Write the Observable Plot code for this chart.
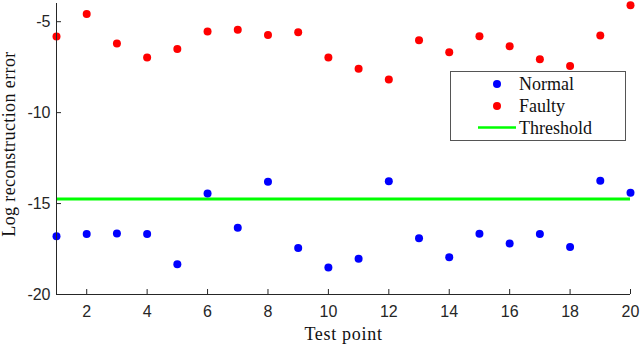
<!DOCTYPE html>
<html>
<head>
<meta charset="utf-8">
<script src="https://cdn.jsdelivr.net/npm/d3@7"></script>
<script src="https://cdn.jsdelivr.net/npm/@observablehq/plot@0.6"></script>
<style>
  html, body { margin: 0; padding: 0; background: #fff; }
  #wrap { position: relative; width: 640px; height: 345px; }
</style>
</head>
<body>
<div id="wrap"></div>
<script>
const testPoints = d3.range(1, 21);
const normal = [-16.8, -16.67, -16.65, -16.67, -18.34, -14.45, -16.33, -13.8, -17.44, -18.52,
                -18.04, -13.77, -16.91, -17.95, -16.66, -17.2, -16.67, -17.39, -13.75, -14.41];
const faulty = [-5.82, -4.58, -6.2, -6.97, -6.5, -5.54, -5.44, -5.73, -5.58, -6.97,
                -7.59, -8.18, -6.02, -6.68, -5.8, -6.35, -7.06, -7.43, -5.76, -4.1];
const threshold = -14.75;
const seriesNames = ["Normal", "Faulty", "Threshold"];
const seriesColors = ["#0000ff", "#ff0000", "#00ff00"];
const xTicks = [2, 4, 6, 8, 10, 12, 14, 16, 18, 20];
const yTicks = [-20, -15, -10, -5];

const normalData = testPoints.map((x, i) => ({x, y: normal[i]}));
const faultyData = testPoints.map((x, i) => ({x, y: faulty[i]}));

const axisColor = "#262626";
const sans = "'Liberation Sans', Arial, sans-serif";
const serif = "'Liberation Serif', 'Times New Roman', serif";

const chart = Plot.plot({
  width: 640,
  height: 345,
  marginLeft: 56,
  marginRight: 10,
  marginTop: 3,
  marginBottom: 51,
  style: {fontFamily: sans, fontSize: "16px", color: axisColor, background: "#fff"},
  x: {domain: [1, 20]},
  y: {domain: [-20, -4]},
  marks: [
    Plot.ruleY([threshold], {x1: 1, x2: 20, stroke: seriesColors[2], strokeWidth: 3}),
    Plot.dot(normalData, {x: "x", y: "y", r: 4, fill: seriesColors[0]}),
    Plot.dot(faultyData, {x: "x", y: "y", r: 4, fill: seriesColors[1]}),
    Plot.axisX({ticks: xTicks, tickFormat: d => String(d), tickSize: -5, tickPadding: 16, stroke: axisColor, fill: axisColor, fontSize: 16, label: null}),
    Plot.axisY({ticks: yTicks, tickFormat: d => String(d), tickSize: -5, tickPadding: 11, stroke: axisColor, fill: axisColor, fontSize: 16, label: null}),
    Plot.ruleX([1], {stroke: axisColor}),
    Plot.ruleY([-20], {stroke: axisColor}),
    Plot.text(["Test point"], {frameAnchor: "bottom", dy: 45, fontFamily: serif, fontSize: 18, fill: "#111", lineAnchor: "bottom"}),
    Plot.text(["Log reconstruction error"], {frameAnchor: "left", textAnchor: "middle", dx: -47, dy: -5, rotate: -90, fontFamily: serif, fontSize: 18, fill: "#111"})
  ]
});
chart.querySelectorAll("text").forEach(t => {
  if (t.textContent === "Log reconstruction error") t.setAttribute("letter-spacing", "0.4px");
  if (t.textContent === "Test point") t.setAttribute("letter-spacing", "0.7px");
});
document.getElementById("wrap").appendChild(chart);

// Legend
const lw = 176, lh = 70;
const leg = d3.create("svg").attr("width", lw).attr("height", lh)
  .style("position", "absolute").style("left", "450px").style("top", "71px");
leg.append("rect").attr("x", 0.5).attr("y", 0.5).attr("width", lw - 1).attr("height", lh - 1)
  .attr("fill", "#fff").attr("stroke", "#555").attr("stroke-width", 1);
const rowY = [13, 35, 56.5];
seriesNames.forEach((name, i) => {
  if (i < 2) {
    leg.append("circle").attr("cx", 47).attr("cy", rowY[i]).attr("r", 4).attr("fill", seriesColors[i]);
  } else {
    leg.append("line").attr("x1", 28).attr("x2", 66).attr("y1", rowY[i]).attr("y2", rowY[i])
      .attr("stroke", seriesColors[i]).attr("stroke-width", 2.5);
  }
  leg.append("text").attr("x", 69).attr("y", rowY[i]).attr("dy", "0.35em")
    .attr("font-family", serif).attr("font-size", 18).attr("fill", "#111").text(name);
});
document.getElementById("wrap").appendChild(leg.node());
</script>
</body>
</html>
